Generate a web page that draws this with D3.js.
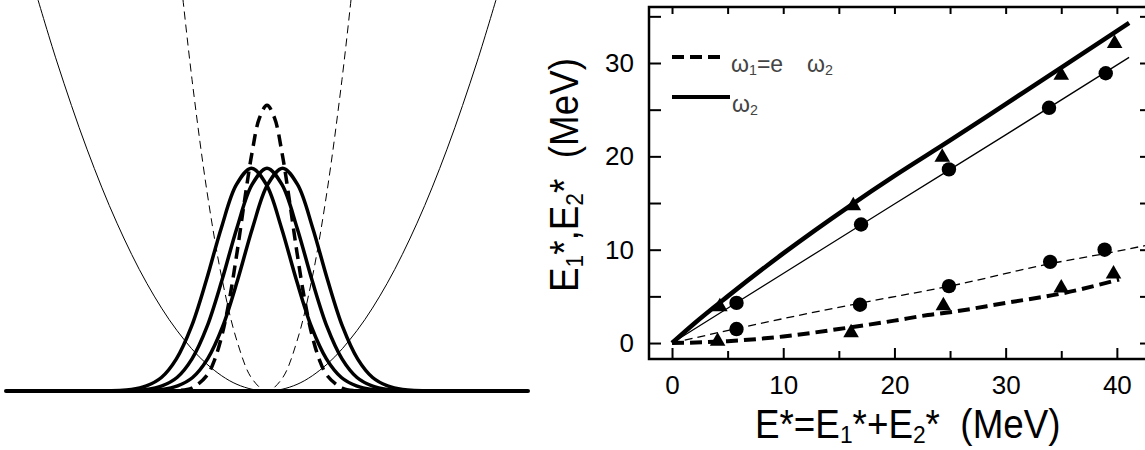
<!DOCTYPE html>
<html>
<meta charset="utf-8" />
<style>
  body { margin: 0; background: #fff; }
  svg { display: block; }
  .tick text { font-family: "Liberation Sans", Arial, sans-serif; }
</style>
<body>
<script src="https://cdn.jsdelivr.net/npm/d3@7"></script>
<script>
  // ---- left panel: wells and wave packets (schematic units) ----
  let wideWell = [[-7.7, 13.23], [-7, 10.94], [-6, 8.04], [-5, 5.58], [-4, 3.57], [-3, 2.01],
    [-2, 0.89], [-1, 0.22], [0, 0], [1, 0.22], [2, 0.89], [3, 2.01], [4, 3.57], [5, 5.58],
    [6, 8.04], [7, 10.94], [7.7, 13.23]];
  let narrowWell = [[-2.85, 13.47], [-2.5, 10.36], [-2, 6.63], [-1.5, 3.73], [-1, 1.66],
    [-0.5, 0.41], [0, 0], [0.5, 0.41], [1, 1.66], [1.5, 3.73], [2, 6.63], [2.5, 10.36], [2.85, 13.47]];
  // packet shape: offset from centre, height
  let solidProfile = [[-5, 0], [-4, 0.05], [-3.5, 0.17], [-3, 0.45], [-2.5, 1.07], [-2, 2.14],
    [-1.5, 3.69], [-1, 5.43], [-0.5, 6.86], [0, 7.41], [0.5, 6.86], [1, 5.43], [1.5, 3.69],
    [2, 2.14], [2.5, 1.07], [3, 0.45], [3.5, 0.17], [4, 0.05], [5, 0]];
  let solidCenters = [-0.52, 0, 0.52];
  let dashedProfile = [[-3.5, 0], [-3, 0.01], [-2.5, 0.1], [-2, 0.52], [-1.75, 1.03], [-1.5, 1.86],
    [-1.25, 3.06], [-1, 4.6], [-0.75, 6.32], [-0.5, 7.92], [-0.25, 9.08], [0, 9.5], [0.25, 9.08],
    [0.5, 7.92], [0.75, 6.32], [1, 4.6], [1.25, 3.06], [1.5, 1.86], [1.75, 1.03], [2, 0.52],
    [2.5, 0.1], [3, 0.01], [3.5, 0]];

  // ---- right panel: excitation energies ----
  let upperThick = [[0, 0], [2, 2.1], [5, 5.0], [10, 9.6], [16, 14.7], [20, 17.9], [25, 21.7],
    [30, 25.6], [35, 29.5], [41.1, 34.3]];
  let upperThin = [[0, 0], [10, 7.45], [20, 14.9], [30, 22.3], [41.1, 30.6]];
  let lowerThin = [[0, 0], [6, 1.6], [17, 4.3], [25, 6.1], [34, 8.5], [39, 9.6], [42.8, 10.5]];
  let lowerThick = [[0, 0], [5, 0.2], [10, 0.7], [15, 1.5], [20, 2.4], [23, 3.0], [25, 3.3],
    [30, 4.3], [35, 5.3], [40.2, 6.8]];
  let triangles = [[4.1, 0.2], [4.3, 3.9], [16.1, 1.1], [16.3, 14.7], [24.4, 4.0], [24.3, 19.9],
    [35, 5.9], [35, 28.7], [39.7, 7.4], [39.8, 32.1]];
  let circles = [[5.8, 1.5], [5.8, 4.3], [16.9, 4.1], [17, 12.7], [24.9, 6.1], [24.9, 18.6],
    [34, 8.7], [33.9, 25.2], [38.9, 10.0], [39, 28.9]];
  let xMajor = [0, 10, 20, 30, 40];
  let xMinor = [5, 15, 25, 35];
  let yMajor = [0, 10, 20, 30];
  let yMinor = [5, 15, 25, 35];

  let width = 1145, height = 450;
  let svg = d3.select("body").append("svg").attr("width", width).attr("height", height);

  let defs = svg.append("defs");
  defs.append("clipPath").attr("id", "clipL").append("rect")
    .attr("x", 0).attr("y", 0).attr("width", 540).attr("height", 450);
  defs.append("clipPath").attr("id", "clipR").append("rect")
    .attr("x", 649).attr("y", 7).attr("width", 499).attr("height", 352);

  // left panel
  let xL = d3.scaleLinear().domain([-8.7, 8.7]).range([6, 528]);
  let yL = d3.scaleLinear().domain([0, 13]).range([391, 0]);
  let lineL = d3.line().x(d => xL(d[0])).y(d => yL(d[1])).curve(d3.curveCatmullRom);
  let gL = svg.append("g").attr("clip-path", "url(#clipL)");

  gL.append("path").datum(wideWell).attr("d", lineL)
    .attr("fill", "none").attr("stroke", "#000").attr("stroke-width", 1);
  gL.append("path").datum(narrowWell).attr("d", lineL)
    .attr("fill", "none").attr("stroke", "#000").attr("stroke-width", 1)
    .attr("stroke-dasharray", "8,5");

  gL.append("path").datum(dashedProfile).attr("d", lineL)
    .attr("fill", "none").attr("stroke", "#000").attr("stroke-width", 3.5)
    .attr("stroke-dasharray", "12,7");

  solidCenters.forEach(c => {
    gL.append("path").datum(solidProfile.map(p => [p[0] + c, p[1]])).attr("d", lineL)
      .attr("fill", "none").attr("stroke", "#000").attr("stroke-width", 3.5);
  });

  gL.append("line")
    .attr("x1", xL(-8.7)).attr("x2", xL(8.7)).attr("y1", yL(0)).attr("y2", yL(0))
    .attr("stroke", "#000").attr("stroke-width", 4).attr("stroke-linecap", "round");

  // right panel
  let x = d3.scaleLinear().domain([-2.07, 42.8]).range([649, 1148]);
  let y = d3.scaleLinear().domain([-1.71, 36.0]).range([359, 7]);
  let line = d3.line().x(d => x(d[0])).y(d => y(d[1])).curve(d3.curveMonotoneX);
  let gR = svg.append("g").attr("clip-path", "url(#clipR)");

  gR.append("path").datum(lowerThin).attr("d", line)
    .attr("fill", "none").attr("stroke", "#000").attr("stroke-width", 1.3)
    .attr("stroke-dasharray", "8,5");
  gR.append("path").datum(lowerThick).attr("d", line)
    .attr("fill", "none").attr("stroke", "#000").attr("stroke-width", 4)
    .attr("stroke-dasharray", "12,6");
  gR.append("path").datum(upperThin).attr("d", line)
    .attr("fill", "none").attr("stroke", "#000").attr("stroke-width", 1.3);
  gR.append("path").datum(upperThick).attr("d", line)
    .attr("fill", "none").attr("stroke", "#000").attr("stroke-width", 4.5);

  gR.selectAll(".tri").data(triangles).join("path").attr("class", "tri")
    .attr("d", d3.symbol(d3.symbolTriangle, 105))
    .attr("transform", d => `translate(${x(d[0])},${y(d[1])})`)
    .attr("fill", "#000");
  gR.selectAll(".dot").data(circles).join("circle").attr("class", "dot")
    .attr("cx", d => x(d[0])).attr("cy", d => y(d[1])).attr("r", 7.2)
    .attr("fill", "#000");

  // axes
  function styleAxis(g) {
    g.select(".domain").remove();
    g.selectAll(".tick line").attr("stroke", "#000").attr("stroke-width", 2);
    g.selectAll(".tick text").attr("fill", "#000").attr("font-size", 26)
      .attr("font-family", "'Liberation Sans', Arial, sans-serif");
  }
  svg.append("g").attr("transform", "translate(0,359)")
    .call(d3.axisBottom(x).tickValues(xMajor).tickSizeInner(-11).tickSizeOuter(0).tickPadding(17))
    .call(styleAxis);
  svg.append("g").attr("transform", "translate(0,359)")
    .call(d3.axisBottom(x).tickValues(xMinor).tickSizeInner(-8).tickSizeOuter(0).tickFormat(""))
    .call(styleAxis);
  svg.append("g").attr("transform", "translate(0,7)")
    .call(d3.axisTop(x).tickValues(xMajor.concat(xMinor)).tickSizeInner(-7).tickSizeOuter(0).tickFormat(""))
    .call(styleAxis);
  svg.append("g").attr("transform", "translate(649,0)")
    .call(d3.axisLeft(y).tickValues(yMajor).tickSizeInner(-12).tickSizeOuter(0).tickPadding(15))
    .call(styleAxis);
  svg.append("g").attr("transform", "translate(649,0)")
    .call(d3.axisLeft(y).tickValues(yMinor).tickSizeInner(-12).tickSizeOuter(0).tickFormat(""))
    .call(styleAxis);
  svg.append("g").attr("transform", "translate(1148,0)")
    .call(d3.axisRight(y).tickValues(yMajor.concat(yMinor)).tickSizeInner(-8).tickSizeOuter(0).tickFormat(""))
    .call(styleAxis);

  svg.append("rect").attr("x", 649).attr("y", 7).attr("width", 499).attr("height", 352)
    .attr("fill", "none").attr("stroke", "#000").attr("stroke-width", 2.5);

  // axis titles
  let font = "'Liberation Sans', Arial, sans-serif";
  function addParts(t, parts) {
    parts.forEach(p => {
      let s = t.append("tspan").text(p[0]);
      if (p[1] === "sub") s.attr("font-size", "0.62em").attr("dy", "0.22em");
      if (p[1] === "back") s.attr("dy", "-0.136em");
    });
  }
  let xt = svg.append("text").attr("transform", "translate(755,438) scale(0.92,1)")
    .attr("font-family", font).attr("font-size", 40).attr("fill", "#000");
  addParts(xt, [["E*=E"], ["1", "sub"], ["*+E", "back"], ["2", "sub"], ["*\u00a0\u00a0(MeV)", "back"]]);

  let yt = svg.append("text").attr("transform", "translate(578,292) rotate(-90) scale(0.92,1)")
    .attr("font-family", font).attr("font-size", 40).attr("fill", "#000");
  addParts(yt, [["E"], ["1", "sub"], ["*,E", "back"], ["2", "sub"], ["*\u00a0\u00a0(MeV)", "back"]]);

  // legend
  svg.append("line").attr("x1", 672).attr("x2", 720).attr("y1", 57).attr("y2", 57)
    .attr("stroke", "#000").attr("stroke-width", 4).attr("stroke-dasharray", "12,6");
  svg.append("line").attr("x1", 672).attr("x2", 730).attr("y1", 97).attr("y2", 97)
    .attr("stroke", "#000").attr("stroke-width", 4);
  let lf = "'Liberation Sans', Arial, sans-serif";
  let l1 = svg.append("text").attr("x", 731).attr("y", 72)
    .attr("font-family", lf).attr("font-size", 23).attr("fill", "#444");
  addParts(l1, [["\u03c9"], ["1", "sub"], ["=e", "back"]]);
  l1.append("tspan").attr("x", 807).text("\u03c9");
  l1.append("tspan").attr("font-size", "0.62em").attr("dy", "0.22em").text("2");
  let l2 = svg.append("text").attr("x", 732).attr("y", 112)
    .attr("font-family", lf).attr("font-size", 23).attr("fill", "#444");
  addParts(l2, [["\u03c9"], ["2", "sub"]]);
</script>
</body>
</html>
